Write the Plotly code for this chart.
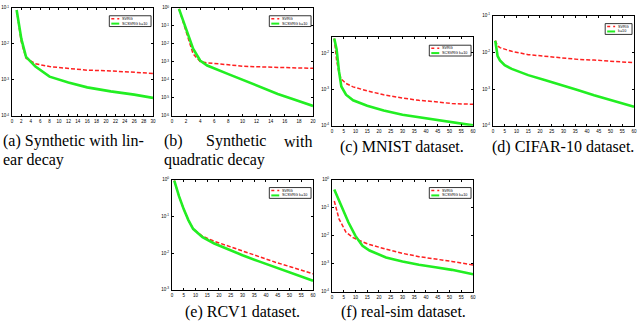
import math
import plotly.graph_objects as go

W, H = 640, 328

# ---- data ----
# (a) synthetic, linear decay
a_svrg_x = [1, 2, 3, 5, 8, 12, 16, 21, 26, 30]
a_svrg_y = [0.0871, 0.0112, 0.0040, 0.00282, 0.00234, 0.00209, 0.00186, 0.00178, 0.00162, 0.00151]
a_sc_x = [1, 2, 3, 5, 8, 12, 16, 21, 26, 30]
a_sc_y = [0.0871, 0.0138, 0.00437, 0.00234, 0.00123, 8.5e-4, 6.2e-4, 4.8e-4, 3.9e-4, 3.16e-4]

# (b) synthetic, quadratic decay
b_svrg_x = [1, 2, 3, 4, 5, 8, 10, 12, 15, 17, 20]
b_svrg_y = [0.891, 0.0562, 0.00282, 0.00105, 8.9e-4, 6.9e-4, 5.75e-4, 5.37e-4, 4.9e-4, 4.68e-4, 4.37e-4]
b_sc_x = [1, 2, 3, 4, 5, 8, 10, 12, 15, 17, 20]
b_sc_y = [0.891, 0.0661, 0.00537, 0.0012, 6.3e-4, 2.09e-4, 1.0e-4, 5.0e-5, 1.66e-5, 8.9e-6, 3.55e-6]

# (c) MNIST
c_svrg_x = [1, 2, 3, 4, 6, 9, 15, 22, 30, 37, 44, 51, 60]
c_svrg_y = [0.0251, 0.0063, 0.00282, 0.00191, 0.00145, 0.00117, 9.1e-4, 7.1e-4, 5.75e-4, 5.0e-4, 4.57e-4, 4.07e-4, 3.89e-4]
c_sc_x = [1, 2, 3, 4, 6, 9, 15, 22, 30, 37, 44, 51, 60]
c_sc_y = [0.0251, 0.0126, 0.00316, 0.0012, 7.1e-4, 5.0e-4, 3.55e-4, 2.63e-4, 2.0e-4, 1.70e-4, 1.41e-4, 1.23e-4, 1.02e-4]

# (d) CIFAR-10
d_svrg_x = [1, 2, 3, 8, 15, 22, 29, 36, 43, 50, 60]
d_svrg_y = [0.0209, 0.0151, 0.0135, 0.0107, 0.0087, 0.00776, 0.00708, 0.00646, 0.00617, 0.00575, 0.00525]
d_sc_x = [1, 2, 3, 5, 8, 15, 22, 29, 36, 43, 50, 60]
d_sc_y = [0.0209, 0.00794, 0.00603, 0.00447, 0.00355, 0.0024, 0.00178, 0.00132, 9.5e-4, 6.8e-4, 5.1e-4, 3.3e-4]

# (e) RCV1
e_svrg_x = [1, 3, 5, 7, 9, 13, 18, 23, 30, 37, 44, 51, 60]
e_svrg_y = [0.95, 0.355, 0.158, 0.079, 0.0457, 0.0288, 0.0209, 0.0162, 0.011, 0.0079, 0.0056, 0.0041, 0.0027]
e_sc_x = [1, 3, 5, 7, 9, 13, 18, 23, 30, 37, 44, 51, 60]
e_sc_y = [0.95, 0.355, 0.158, 0.079, 0.0457, 0.0269, 0.0182, 0.0132, 0.0087, 0.0059, 0.0041, 0.0028, 0.00174]

# (f) real-sim
f_svrg_x = [1, 3, 6, 9, 13, 16, 23, 30, 37, 44, 51, 60]
f_svrg_y = [0.174, 0.0398, 0.0132, 0.0085, 0.006, 0.0048, 0.0033, 0.00234, 0.00178, 0.00148, 0.0012, 8.9e-4]
f_sc_x = [1, 4, 7, 10, 13, 16, 23, 30, 37, 44, 51, 60]
f_sc_y = [0.447, 0.115, 0.0302, 0.0098, 0.00437, 0.00295, 0.00166, 0.0012, 9.1e-4, 7.4e-4, 6.0e-4, 4.2e-4]

# panel layout: pixel boxes (left, right, top, bottom), x range/step, log y range
panels = [
    dict(svrg=(a_svrg_x, a_svrg_y), sc=(a_sc_x, a_sc_y), box=(11, 153, 5, 115), xr=(0, 30), dx=2, yr=(-4, -1), lab="SCSVRG k=10"),
    dict(svrg=(b_svrg_x, b_svrg_y), sc=(b_sc_x, b_sc_y), box=(172, 314, 5, 115), xr=(0, 20), dx=2, yr=(-6, 0), lab="SCSVRG k=10"),
    dict(svrg=(c_svrg_x, c_svrg_y), sc=(c_sc_x, c_sc_y), box=(333, 475, 35, 125), xr=(0, 60), dx=5, yr=(-4, -1.57), lab="SCSVRG k=10"),
    dict(svrg=(d_svrg_x, d_svrg_y), sc=(d_sc_x, d_sc_y), box=(495, 637, 13, 125), xr=(0, 60), dx=5, yr=(-4, -1), lab="k=10"),
    dict(svrg=(e_svrg_x, e_svrg_y), sc=(e_sc_x, e_sc_y), box=(172, 314, 180, 292), xr=(0, 60), dx=5, yr=(-3, 0), lab="SCSVRG k=10"),
    dict(svrg=(f_svrg_x, f_svrg_y), sc=(f_sc_x, f_sc_y), box=(333, 475, 180, 294), xr=(0, 60), dx=5, yr=(-4, 0), lab="SCSVRG k=10"),
]

fig = go.Figure()
layout = {}
shapes = []
annos = []
tickfont = dict(family="Liberation Sans", size=4.5, color="black")
RED, GREEN = "#ff2020", "#22ee22"

for i, p in enumerate(panels):
    n = "" if i == 0 else str(i + 1)
    xa, ya = "x" + n, "y" + n
    l, r, t, b = p["box"]
    fig.add_trace(go.Scatter(x=p["svrg"][0], y=p["svrg"][1], mode="lines", xaxis=xa, yaxis=ya,
                             line=dict(color=RED, width=1.5, dash="4px,2px"), showlegend=False))
    fig.add_trace(go.Scatter(x=p["sc"][0], y=p["sc"][1], mode="lines", xaxis=xa, yaxis=ya,
                             line=dict(color=GREEN, width=2.6), showlegend=False))
    lo, hi = p["yr"]
    decs = list(range(math.ceil(lo), math.floor(hi) + 1))
    layout["xaxis" + n] = dict(domain=[l / W, r / W], anchor=ya, range=list(p["xr"]),
                               tickmode="linear", tick0=0, dtick=p["dx"], ticks="inside", ticklen=2,
                               tickcolor="black", showline=True, linecolor="black", linewidth=1,
                               mirror="allticks", showgrid=False, zeroline=False, tickfont=tickfont,
                               ticklabelstandoff=1)
    layout["yaxis" + n] = dict(domain=[1 - b / H, 1 - t / H], anchor=xa, type="log", range=[lo, hi],
                               tickvals=[10 ** d for d in decs],
                               ticktext=["10<sup>%d</sup>" % d for d in decs],
                               ticks="inside", ticklen=2, tickcolor="black", showline=True,
                               linecolor="black", linewidth=1, mirror="allticks", showgrid=False,
                               zeroline=False, tickfont=tickfont, ticklabelstandoff=1)
    # small legend box, drawn in axis-domain coords
    xd, yd = xa + " domain", ya + " domain"
    lw = 42 if i != 3 else 27
    x1 = (r - l - 2) / (r - l)
    x0 = x1 - lw / (r - l)
    y1 = 1 - 8 / (b - t)
    y0 = y1 - 11 / (b - t)
    shapes.append(dict(type="rect", xref=xd, yref=yd, x0=x0, x1=x1, y0=y0, y1=y1,
                       line=dict(color="black", width=0.8), fillcolor="white", layer="above"))
    sx0 = x0 + 2 / (r - l)
    sx1 = x0 + 10 / (r - l)
    ya1 = y1 - 3 / (b - t)
    ya2 = y1 - 8 / (b - t)
    shapes.append(dict(type="line", xref=xd, yref=yd, x0=sx0, x1=sx1, y0=ya1, y1=ya1,
                       line=dict(color=RED, width=1.5, dash="dot"), layer="above"))
    shapes.append(dict(type="line", xref=xd, yref=yd, x0=sx0, x1=sx1, y0=ya2, y1=ya2,
                       line=dict(color=GREEN, width=2), layer="above"))
    for txt, yy in (("SVRG", ya1), (p["lab"], ya2)):
        annos.append(dict(text=txt, xref=xd, yref=yd, x=sx1 + 1 / (r - l), y=yy, xanchor="left",
                          yanchor="middle", showarrow=False,
                          font=dict(family="Liberation Sans", size=3.8, color="black")))

capfont = dict(family="Liberation Serif", size=16, color="black")


def cap(text, xp, yp, anchor="center"):
    annos.append(dict(text=text, xref="paper", yref="paper", x=xp / W, y=1 - yp / H,
                      xanchor=anchor, yanchor="middle", showarrow=False, font=capfont))


cap("(a) Synthetic with lin-", 0, 141, "left")
cap("ear decay", 0, 160, "left")
cap("(b)", 162, 141, "left")
cap("Synthetic", 236, 141)
cap("with", 315, 141, "right")
cap("quadratic decay", 162, 160, "left")
cap("(c) MNIST dataset.", 404, 147)
cap("(d) CIFAR-10 dataset.", 566, 147)
cap("(e) RCV1 dataset.", 243, 315)
cap("(f) real-sim dataset.", 405, 315)

fig.update_layout(width=W, height=H, margin=dict(l=0, r=0, t=0, b=0),
                  paper_bgcolor="white", plot_bgcolor="white",
                  shapes=shapes, annotations=annos, **layout)

fig.write_html("out.html", post_script="document.body.style.margin='0';",
               config={"displayModeBar": False})
